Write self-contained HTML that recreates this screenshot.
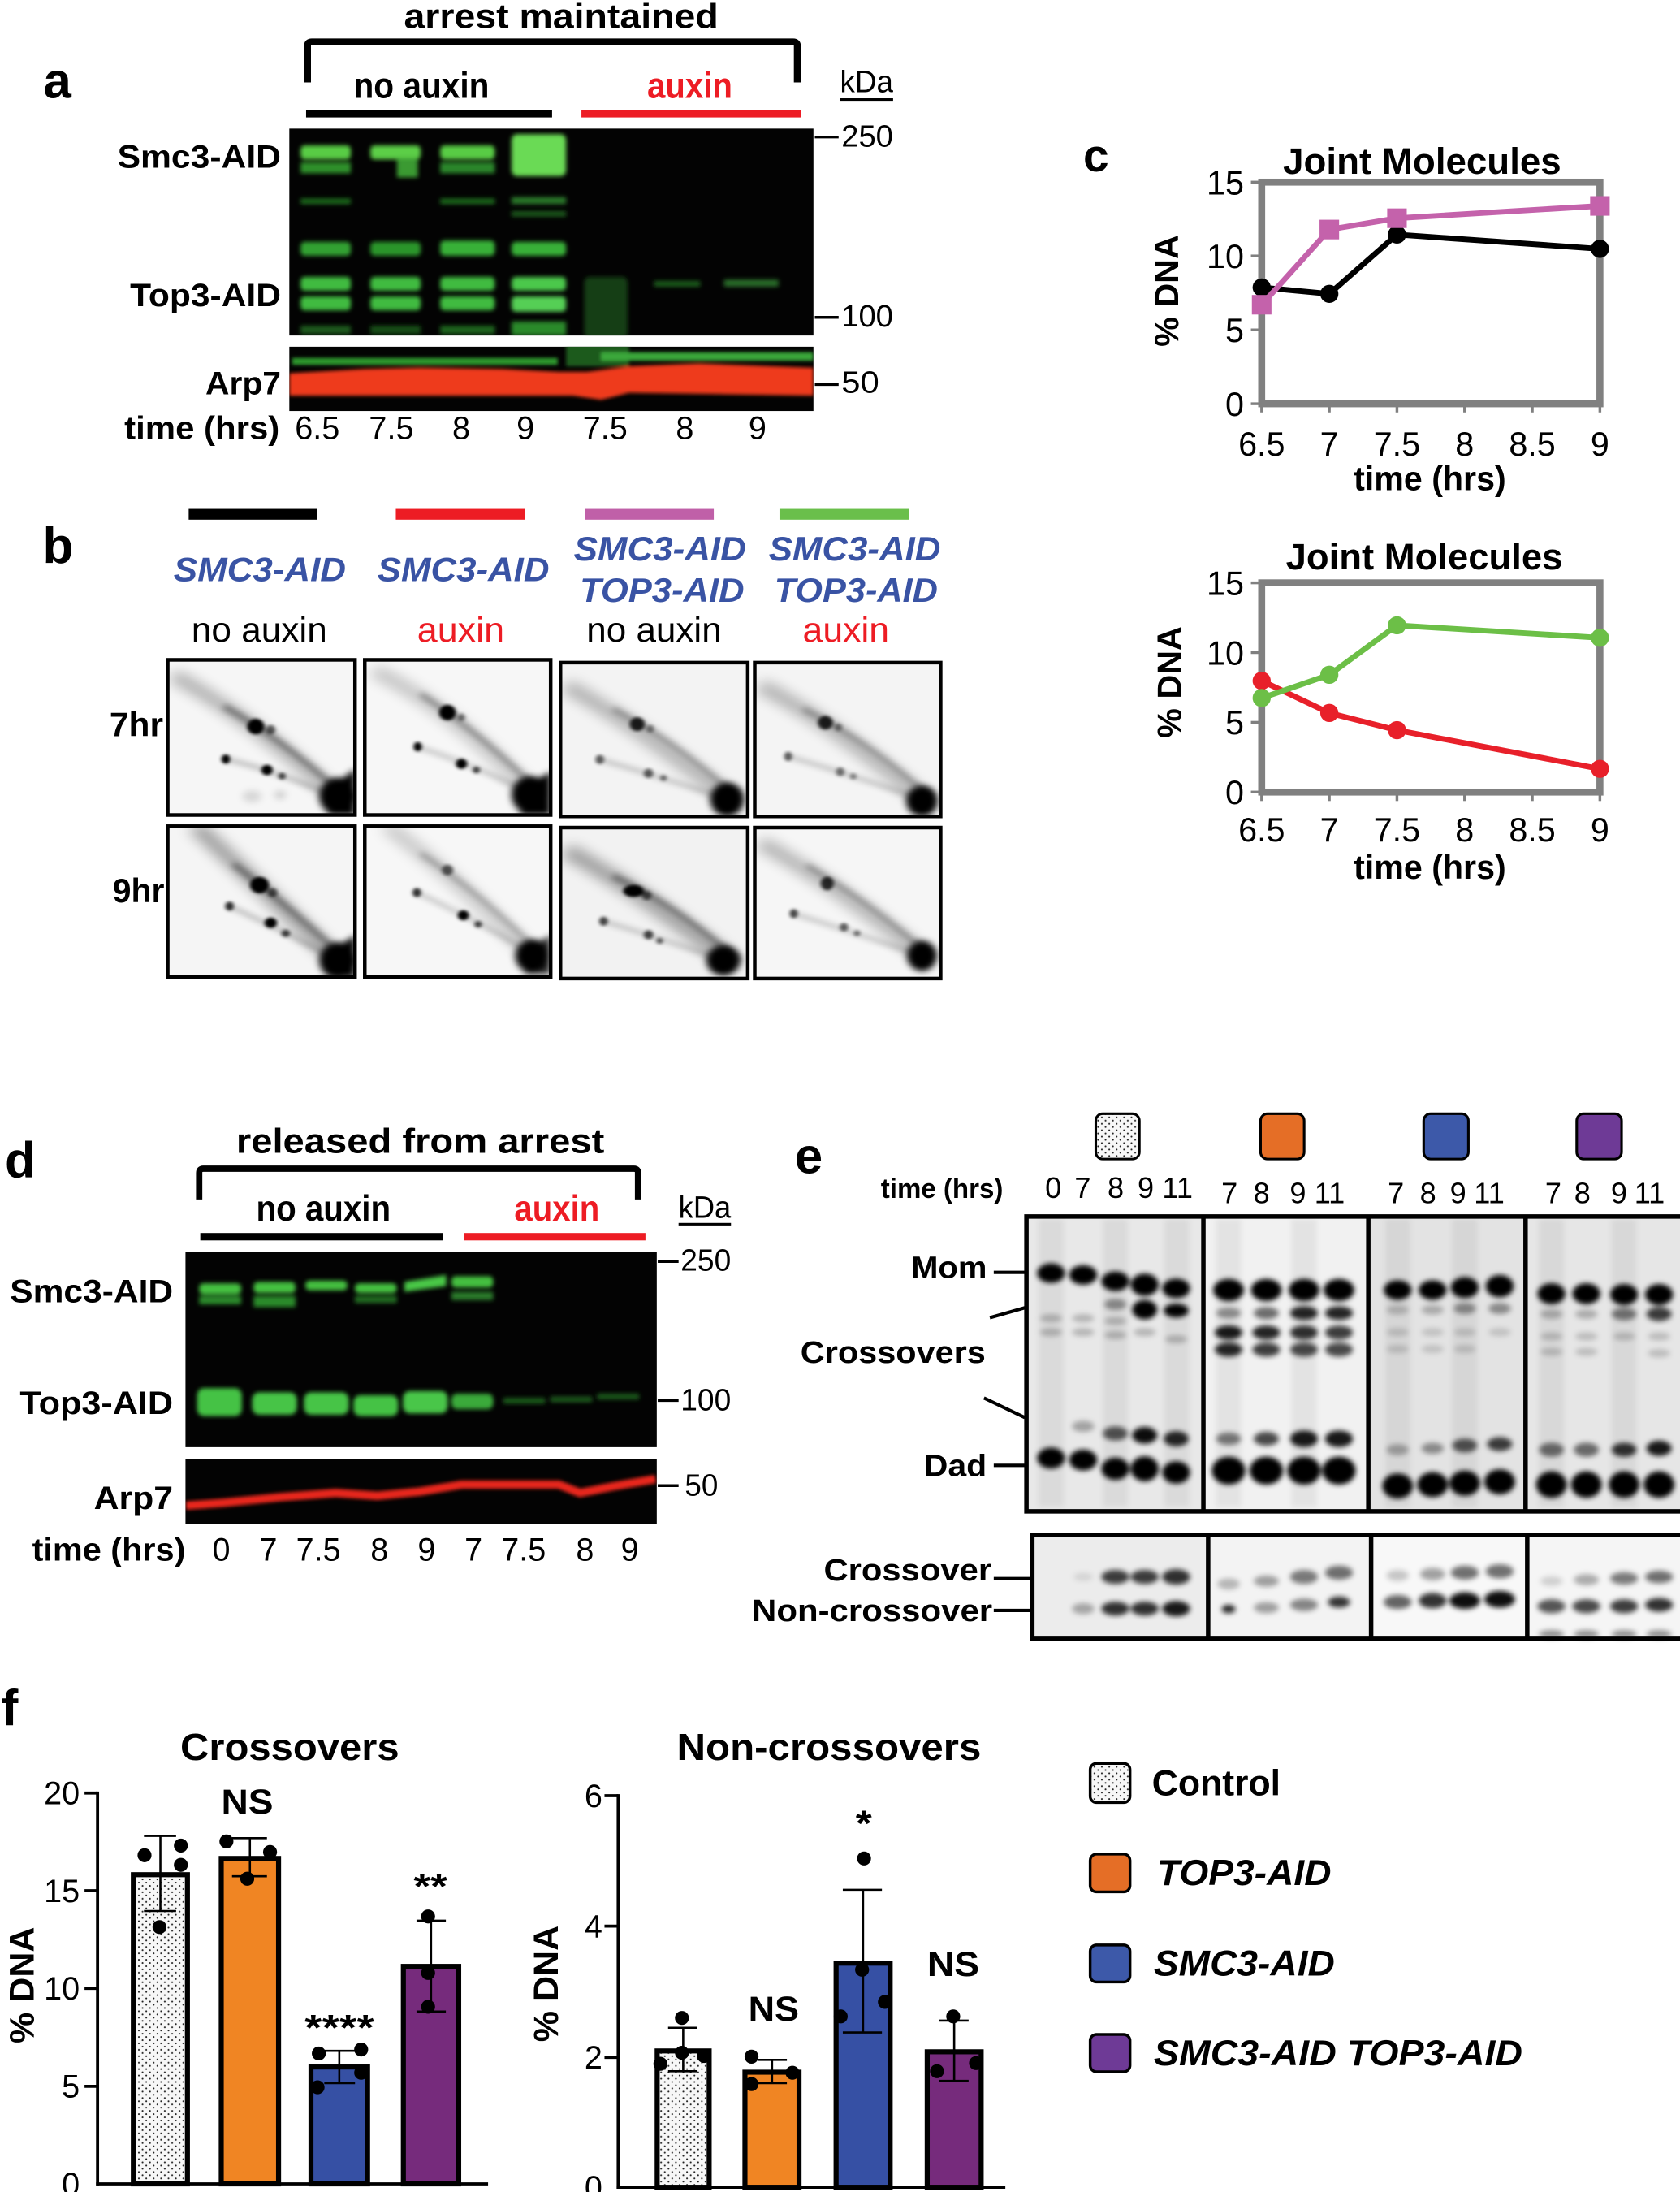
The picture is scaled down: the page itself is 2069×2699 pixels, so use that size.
<!DOCTYPE html>
<html><head><meta charset="utf-8">
<style>
html,body{margin:0;padding:0;background:#fff;}
svg{display:block;}
text{font-family:"Liberation Sans",Arial,sans-serif;fill:#000;}
.b{font-weight:bold;}
.bi{font-weight:bold;font-style:italic;}
.red{fill:#ed1c24;}
.blue{fill:#3953a4;}
</style></head><body>
<svg xmlns="http://www.w3.org/2000/svg" width="2069" height="2699" viewBox="0 0 1202 1568" preserveAspectRatio="none">
<defs>
 <filter id="f1" x="-20%" y="-50%" width="140%" height="200%"><feGaussianBlur stdDeviation="1.6"/></filter>
 <filter id="f1r" x="-20%" y="-50%" width="140%" height="200%"><feGaussianBlur stdDeviation="1.3"/></filter>
 <filter id="f2" x="-20%" y="-50%" width="140%" height="200%"><feGaussianBlur stdDeviation="1.8"/></filter>
 <filter id="n1" x="-30%" y="-30%" width="160%" height="160%"><feGaussianBlur stdDeviation="1"/></filter>
 <filter id="n2" x="-30%" y="-30%" width="160%" height="160%"><feGaussianBlur stdDeviation="2"/></filter>
 <filter id="n4" x="-30%" y="-30%" width="160%" height="160%"><feGaussianBlur stdDeviation="4"/></filter>
 <pattern id="dots" width="5.3" height="4.6" patternUnits="userSpaceOnUse"><rect width="5.3" height="4.6" fill="#f7f7f7"/><circle cx="1.3" cy="1.2" r="0.6" fill="#222"/><circle cx="3.95" cy="3.5" r="0.6" fill="#222"/></pattern>
 <clipPath id="cpa1"><rect x="207" y="92" width="375" height="148"/></clipPath>
 <clipPath id="cpa2"><rect x="207" y="248" width="375" height="46"/></clipPath>
 <clipPath id="cpd1"><rect x="132.7" y="895.5" width="337.2" height="139.7"/></clipPath>
 <clipPath id="cpd2"><rect x="132.7" y="1043.9" width="337.2" height="46"/></clipPath>
</defs>

<!-- ================= PANEL A ================= -->
<text x="31" y="70" font-size="36" class="b">a</text>
<text x="289" y="20" font-size="25" class="b" textLength="225" lengthAdjust="spacingAndGlyphs">arrest maintained</text>
<path d="M220,59 V33 Q220,30 223,30 H567.5 Q570.5,30 570.5,33 V59" fill="none" stroke="#000" stroke-width="5"/>
<text x="253" y="70" font-size="26" class="b" textLength="97" lengthAdjust="spacingAndGlyphs">no auxin</text>
<text x="463" y="70" font-size="26" class="b red" textLength="61" lengthAdjust="spacingAndGlyphs">auxin</text>
<rect x="219" y="78.5" width="176" height="5.5" fill="#000"/>
<rect x="416" y="78.5" width="157" height="5.5" fill="#ed1c24"/>
<text x="601" y="66" font-size="22" textLength="38" lengthAdjust="spacingAndGlyphs">kDa</text>
<rect x="601" y="70.3" width="38" height="1.8" fill="#000"/>
<text x="84" y="120" font-size="23" class="b" textLength="117" lengthAdjust="spacingAndGlyphs">Smc3-AID</text>
<text x="93" y="219" font-size="23" class="b" textLength="108" lengthAdjust="spacingAndGlyphs">Top3-AID</text>
<text x="147" y="282" font-size="23" class="b" textLength="54" lengthAdjust="spacingAndGlyphs">Arp7</text>
<!-- blot 1 -->
<rect x="207" y="92" width="375" height="148" fill="#030303"/>
<g clip-path="url(#cpa1)"><g filter="url(#f1)">
 <rect x="215" y="104" width="36" height="10" rx="3" fill="#58cc44"/>
 <rect x="265" y="104" width="36" height="10" rx="3" fill="#5cce46"/>
 <rect x="315" y="104" width="39" height="10" rx="3" fill="#58cc44"/>
 <rect x="366" y="96" width="39" height="30" rx="4" fill="#6ada54"/>
 <rect x="215" y="116" width="36" height="8" fill="#2f8f2a"/>
 <rect x="284" y="113" width="15" height="14" fill="#3a9a30"/>
 <rect x="315" y="116" width="39" height="8" fill="#2c852a"/>
 <rect x="215" y="142" width="36" height="4" fill="#1f6a1f"/>
 <rect x="315" y="142" width="39" height="4" fill="#1f6a1f"/>
 <rect x="366" y="141" width="39" height="5" fill="#2a7a2a"/>
 <rect x="366" y="151" width="39" height="4" fill="#1a5a1a"/>
 <rect x="215" y="173" width="36" height="10" rx="3" fill="#32a032"/>
 <rect x="265" y="173" width="36" height="10" rx="3" fill="#2c952c"/>
 <rect x="315" y="172" width="39" height="11" rx="3" fill="#38b038"/>
 <rect x="366" y="173" width="39" height="10" rx="3" fill="#38b038"/>
 <rect x="215" y="198" width="36" height="10" rx="3" fill="#40bb40"/>
 <rect x="265" y="198" width="36" height="10" rx="3" fill="#40bb40"/>
 <rect x="315" y="198" width="39" height="10" rx="3" fill="#40bb40"/>
 <rect x="366" y="198" width="39" height="10" rx="3" fill="#4cc84c"/>
 <rect x="215" y="212" width="36" height="10" rx="3" fill="#40bb40"/>
 <rect x="265" y="212" width="36" height="10" rx="3" fill="#40bb40"/>
 <rect x="315" y="212" width="39" height="10" rx="3" fill="#40bb40"/>
 <rect x="366" y="212" width="39" height="11" rx="3" fill="#55cf55"/>
 <rect x="215" y="233" width="36" height="6" fill="#1a5a1a"/>
 <rect x="265" y="233" width="36" height="6" fill="#154d15"/>
 <rect x="315" y="233" width="39" height="6" fill="#1e651e"/>
 <rect x="366" y="230" width="39" height="10" fill="#2b8a2b"/>
 <rect x="418" y="198" width="31" height="44" rx="4" fill="#1b4d1b" opacity="0.8"/>
 <rect x="468" y="201" width="33" height="4" fill="#1f5f1f"/>
 <rect x="518" y="200" width="39" height="5" fill="#2a6f2a"/>
</g></g>
<!-- blot 2 -->
<rect x="207" y="248" width="375" height="46" fill="#030303"/>
<g clip-path="url(#cpa2)"><g filter="url(#f1r)">
 <rect x="209" y="256" width="190" height="5" fill="#2f9a2f"/>
 <rect x="405" y="246" width="45" height="16" fill="#1f5a1f"/>
 <rect x="430" y="252" width="152" height="6" fill="#3aa83a"/>
 <path d="M207,267 L260,264 L300,263 L360,264 L400,266 L420,266 L450,262 L500,260 L582,263 L582,283 L450,281 L430,286 L410,283 L207,283 Z" fill="#ee3b1e"/>
</g></g>
<line x1="583" y1="98" x2="600" y2="98" stroke="#000" stroke-width="2"/>
<line x1="583" y1="227" x2="600" y2="227" stroke="#000" stroke-width="2"/>
<line x1="583" y1="275" x2="600" y2="275" stroke="#000" stroke-width="2"/>
<text x="602" y="105" font-size="22" textLength="37" lengthAdjust="spacingAndGlyphs">250</text>
<text x="602" y="233.5" font-size="22" textLength="37" lengthAdjust="spacingAndGlyphs">100</text>
<text x="602" y="281" font-size="22" textLength="27" lengthAdjust="spacingAndGlyphs">50</text>
<text x="89" y="314" font-size="23" class="b" textLength="111" lengthAdjust="spacingAndGlyphs">time (hrs)</text>
<g font-size="23" text-anchor="middle">
 <text x="227" y="314">6.5</text><text x="280" y="314">7.5</text><text x="330" y="314">8</text><text x="376" y="314">9</text>
 <text x="433" y="314">7.5</text><text x="490" y="314">8</text><text x="542" y="314">9</text>
</g>

<!-- ================= PANEL C ================= -->
<text x="775" y="122.5" font-size="33" class="b">c</text>
<text x="918" y="124.3" font-size="26.5" class="b" textLength="199" lengthAdjust="spacingAndGlyphs">Joint Molecules</text>
<g stroke="#808080" stroke-width="2">
 <line x1="895" y1="130.3" x2="903" y2="130.3"/><line x1="895" y1="183.1" x2="903" y2="183.1"/>
 <line x1="895" y1="236" x2="903" y2="236"/><line x1="895" y1="288.8" x2="903" y2="288.8"/>
 <line x1="902.7" y1="288" x2="902.7" y2="295"/><line x1="951.1" y1="288" x2="951.1" y2="295"/>
 <line x1="999.5" y1="288" x2="999.5" y2="295"/><line x1="1047.9" y1="288" x2="1047.9" y2="295"/>
 <line x1="1096.3" y1="288" x2="1096.3" y2="295"/><line x1="1144.7" y1="288" x2="1144.7" y2="295"/>
</g>
<rect x="902.7" y="130.3" width="242" height="158.5" fill="none" stroke="#808080" stroke-width="5"/>
<g font-size="24" text-anchor="end">
 <text x="890" y="139">15</text><text x="890" y="191.8">10</text><text x="890" y="244.6">5</text><text x="890" y="297.4">0</text>
</g>
<g font-size="24" text-anchor="middle">
 <text x="902.7" y="326">6.5</text><text x="951.1" y="326">7</text><text x="999.5" y="326">7.5</text>
 <text x="1047.9" y="326">8</text><text x="1096.3" y="326">8.5</text><text x="1144.7" y="326">9</text>
</g>
<text x="968.5" y="350.7" font-size="24" class="b" textLength="109" lengthAdjust="spacingAndGlyphs">time (hrs)</text>
<text transform="translate(843,208) rotate(-90)" font-size="24" class="b" text-anchor="middle">% DNA</text>
<polyline points="902.7,205.6 951.1,210.2 999.5,167.8 1144.7,178" fill="none" stroke="#000" stroke-width="4"/>
<g fill="#000"><circle cx="902.7" cy="205.6" r="6.5"/><circle cx="951.1" cy="210.2" r="6.5"/><circle cx="999.5" cy="167.8" r="6.5"/><circle cx="1144.7" cy="178" r="6.5"/></g>
<polyline points="902.7,218 951.1,164.2 999.5,156.1 1144.7,147.3" fill="none" stroke="#c462ab" stroke-width="4"/>
<g fill="#c462ab"><rect x="895.7" y="211" width="14" height="14"/><rect x="944.1" y="157.2" width="14" height="14"/><rect x="992.5" y="149.1" width="14" height="14"/><rect x="1137.7" y="140.3" width="14" height="14"/></g>

<text x="920" y="407.3" font-size="26.5" class="b" textLength="198" lengthAdjust="spacingAndGlyphs">Joint Molecules</text>
<g stroke="#808080" stroke-width="2">
 <line x1="895" y1="416.9" x2="903" y2="416.9"/><line x1="895" y1="466.8" x2="903" y2="466.8"/>
 <line x1="895" y1="516.7" x2="903" y2="516.7"/><line x1="895" y1="566.6" x2="903" y2="566.6"/>
 <line x1="902.7" y1="566" x2="902.7" y2="573"/><line x1="951.1" y1="566" x2="951.1" y2="573"/>
 <line x1="999.5" y1="566" x2="999.5" y2="573"/><line x1="1047.9" y1="566" x2="1047.9" y2="573"/>
 <line x1="1096.3" y1="566" x2="1096.3" y2="573"/><line x1="1144.7" y1="566" x2="1144.7" y2="573"/>
</g>
<rect x="902.7" y="416.9" width="242" height="149.7" fill="none" stroke="#808080" stroke-width="5"/>
<g font-size="24" text-anchor="end">
 <text x="890" y="425.5">15</text><text x="890" y="475.4">10</text><text x="890" y="525.3">5</text><text x="890" y="575.2">0</text>
</g>
<g font-size="24" text-anchor="middle">
 <text x="902.7" y="602">6.5</text><text x="951.1" y="602">7</text><text x="999.5" y="602">7.5</text>
 <text x="1047.9" y="602">8</text><text x="1096.3" y="602">8.5</text><text x="1144.7" y="602">9</text>
</g>
<text x="968.5" y="628.5" font-size="24" class="b" textLength="109" lengthAdjust="spacingAndGlyphs">time (hrs)</text>
<text transform="translate(845,488) rotate(-90)" font-size="24" class="b" text-anchor="middle">% DNA</text>
<polyline points="902.7,487 951.1,510 999.5,522.3 1144.7,550" fill="none" stroke="#e8202a" stroke-width="4"/>
<g fill="#e8202a"><circle cx="902.7" cy="487" r="6.5"/><circle cx="951.1" cy="510" r="6.5"/><circle cx="999.5" cy="522.3" r="6.5"/><circle cx="1144.7" cy="550" r="6.5"/></g>
<polyline points="902.7,499.3 951.1,482.7 999.5,447.3 1144.7,456.2" fill="none" stroke="#6cbf47" stroke-width="4"/>
<g fill="#6cbf47"><circle cx="902.7" cy="499.3" r="6.5"/><circle cx="951.1" cy="482.7" r="6.5"/><circle cx="999.5" cy="447.3" r="6.5"/><circle cx="1144.7" cy="456.2" r="6.5"/></g>

<!-- ================= PANEL B ================= -->
<text x="30.5" y="402.7" font-size="36" class="b">b</text>
<rect x="135" y="364" width="91.6" height="7.7" fill="#000"/>
<rect x="283.2" y="364" width="92.4" height="7.7" fill="#ed1c24"/>
<rect x="418.3" y="364" width="92.4" height="7.7" fill="#c060a8"/>
<rect x="557.7" y="364" width="92.4" height="7.7" fill="#6abf4b"/>
<text x="124.2" y="415.6" font-size="24" class="bi blue" textLength="123.3" lengthAdjust="spacingAndGlyphs">SMC3-AID</text>
<text x="270" y="415.6" font-size="24" class="bi blue" textLength="123" lengthAdjust="spacingAndGlyphs">SMC3-AID</text>
<text x="410.5" y="400.8" font-size="24" class="bi blue" textLength="123.3" lengthAdjust="spacingAndGlyphs">SMC3-AID</text>
<text x="414.8" y="430.4" font-size="24" class="bi blue" textLength="117.7" lengthAdjust="spacingAndGlyphs">TOP3-AID</text>
<text x="550" y="400.8" font-size="24" class="bi blue" textLength="123" lengthAdjust="spacingAndGlyphs">SMC3-AID</text>
<text x="554" y="430.4" font-size="24" class="bi blue" textLength="117" lengthAdjust="spacingAndGlyphs">TOP3-AID</text>
<text x="137" y="459" font-size="25" textLength="97" lengthAdjust="spacingAndGlyphs">no auxin</text>
<text x="298.5" y="459" font-size="25" class="red" textLength="62.3" lengthAdjust="spacingAndGlyphs">auxin</text>
<text x="419.6" y="459" font-size="25" textLength="96.7" lengthAdjust="spacingAndGlyphs">no auxin</text>
<text x="574.3" y="459" font-size="25" class="red" textLength="61.9" lengthAdjust="spacingAndGlyphs">auxin</text>
<text x="78.4" y="526.6" font-size="24" class="b" textLength="38.4" lengthAdjust="spacingAndGlyphs">7hr</text>
<text x="80.6" y="645.5" font-size="24" class="b" textLength="37" lengthAdjust="spacingAndGlyphs">9hr</text>

<!-- gel R1C1 -->
<svg x="120" y="472" width="134" height="111" viewBox="0 0 100 100" preserveAspectRatio="none">
 <rect width="100" height="100" fill="#f6f6f6"/>
 <g filter="url(#n4)" opacity="0.3"><path d="M3,10 Q45,38 90,88" stroke="#000" stroke-width="8" fill="none"/></g>
 <g filter="url(#n2)"><path d="M30,30 Q60,50 95,88" stroke="#000" stroke-width="3.5" fill="none" opacity="0.45"/><path d="M31,64 Q60,72 92,90" stroke="#000" stroke-width="2" fill="none" opacity="0.35"/>
  <ellipse cx="45" cy="88" rx="5" ry="4" fill="#000" opacity="0.12"/><ellipse cx="60" cy="87" rx="3" ry="3" fill="#000" opacity="0.15"/></g>
 <g filter="url(#n1)"><ellipse cx="47" cy="43" rx="4.5" ry="5" fill="#000"/><ellipse cx="55" cy="45" rx="2.5" ry="3" fill="#000" opacity="0.6"/><ellipse cx="31" cy="64" rx="2.3" ry="3" fill="#000"/><ellipse cx="53" cy="71" rx="3" ry="3.3" fill="#000"/><ellipse cx="61" cy="75" rx="2" ry="2.2" fill="#000" opacity="0.7"/></g>
 <g filter="url(#n2)"><ellipse cx="91" cy="88" rx="10" ry="12" fill="#000"/><path d="M84,86 L100,70 L100,100 L86,100Z" fill="#000"/></g>
</svg>
<!-- gel R1C2 -->
<svg x="261" y="472" width="133" height="111" viewBox="0 0 100 100" preserveAspectRatio="none">
 <rect width="100" height="100" fill="#f7f7f7"/>
 <g filter="url(#n4)" opacity="0.22"><path d="M5,7 Q45,30 90,86" stroke="#000" stroke-width="8" fill="none"/></g>
 <g filter="url(#n2)"><path d="M30,22 Q60,45 95,86" stroke="#000" stroke-width="3" fill="none" opacity="0.4"/><path d="M28,56 Q60,68 92,88" stroke="#000" stroke-width="2" fill="none" opacity="0.3"/></g>
 <g filter="url(#n1)"><ellipse cx="44.5" cy="34" rx="4.5" ry="5" fill="#000"/><ellipse cx="52" cy="37" rx="2" ry="2.5" fill="#000" opacity="0.5"/><ellipse cx="28.5" cy="56" rx="2.2" ry="3" fill="#000"/><ellipse cx="52" cy="67" rx="3" ry="3.3" fill="#000"/><ellipse cx="60" cy="71" rx="2" ry="2.2" fill="#000" opacity="0.7"/></g>
 <g filter="url(#n2)"><ellipse cx="89" cy="87" rx="10" ry="12" fill="#000"/><path d="M82,85 L100,72 L100,100 L84,100Z" fill="#000"/></g>
</svg>
<!-- gel R1C3 -->
<svg x="401" y="474" width="134" height="110" viewBox="0 0 100 100" preserveAspectRatio="none">
 <rect width="100" height="100" fill="#f3f3f3"/>
 <g filter="url(#n4)" opacity="0.27"><path d="M3,15 Q40,40 90,88" stroke="#000" stroke-width="9" fill="none"/></g>
 <g filter="url(#n2)"><path d="M28,30 Q60,50 95,88" stroke="#000" stroke-width="3" fill="none" opacity="0.35"/><path d="M21,63 Q55,75 92,90" stroke="#000" stroke-width="2" fill="none" opacity="0.3"/></g>
 <g filter="url(#n1)" opacity="0.85"><ellipse cx="41" cy="40" rx="4" ry="4.5" fill="#000"/><ellipse cx="48" cy="43" rx="2" ry="2.5" fill="#000" opacity="0.5"/><ellipse cx="21" cy="63" rx="2.3" ry="3" fill="#000" opacity="0.7"/><ellipse cx="47" cy="72" rx="2.5" ry="3" fill="#000" opacity="0.7"/><ellipse cx="55" cy="75" rx="1.8" ry="2" fill="#000" opacity="0.6"/></g>
 <g filter="url(#n2)"><ellipse cx="89" cy="89" rx="9" ry="11" fill="#000"/></g>
</svg>
<!-- gel R1C4 -->
<svg x="540" y="474" width="133" height="110" viewBox="0 0 100 100" preserveAspectRatio="none">
 <rect width="100" height="100" fill="#f4f4f4"/>
 <g filter="url(#n4)" opacity="0.27"><path d="M3,15 Q40,38 90,88" stroke="#000" stroke-width="9" fill="none"/></g>
 <g filter="url(#n2)"><path d="M26,30 Q60,50 95,88" stroke="#000" stroke-width="3" fill="none" opacity="0.35"/><path d="M18,61 Q55,74 92,90" stroke="#000" stroke-width="2" fill="none" opacity="0.3"/></g>
 <g filter="url(#n1)" opacity="0.85"><ellipse cx="38" cy="39" rx="4" ry="4.5" fill="#000"/><ellipse cx="45" cy="42" rx="2" ry="2.5" fill="#000" opacity="0.5"/><ellipse cx="18" cy="61" rx="2.2" ry="3" fill="#000" opacity="0.7"/><ellipse cx="46" cy="71" rx="2.3" ry="2.8" fill="#000" opacity="0.6"/><ellipse cx="53" cy="74" rx="1.8" ry="2" fill="#000" opacity="0.5"/></g>
 <g filter="url(#n2)"><ellipse cx="90" cy="90" rx="8.5" ry="10" fill="#000"/></g>
</svg>
<!-- gel R2C1 -->
<svg x="120" y="591" width="134" height="108" viewBox="0 0 100 100" preserveAspectRatio="none">
 <rect width="100" height="100" fill="#f5f5f5"/>
 <g filter="url(#n4)" opacity="0.36"><path d="M15,0 Q45,35 90,88" stroke="#000" stroke-width="9" fill="none"/></g>
 <g filter="url(#n2)"><path d="M35,25 Q62,50 95,88" stroke="#000" stroke-width="3.5" fill="none" opacity="0.45"/><path d="M33,53 Q60,68 92,90" stroke="#000" stroke-width="2" fill="none" opacity="0.35"/></g>
 <g filter="url(#n1)"><ellipse cx="49" cy="39" rx="5" ry="5.5" fill="#000"/><ellipse cx="56" cy="44" rx="2.5" ry="3" fill="#000" opacity="0.6"/><ellipse cx="33" cy="53" rx="2.3" ry="3" fill="#000" opacity="0.8"/><ellipse cx="55" cy="64" rx="3.3" ry="3.5" fill="#000"/><ellipse cx="63" cy="71" rx="2.3" ry="2.5" fill="#000" opacity="0.7"/></g>
 <g filter="url(#n2)"><ellipse cx="91" cy="89" rx="10" ry="12" fill="#000"/><path d="M84,86 L100,72 L100,100 L86,100Z" fill="#000"/></g>
</svg>
<!-- gel R2C2 -->
<svg x="261" y="591" width="133" height="108" viewBox="0 0 100 100" preserveAspectRatio="none">
 <rect width="100" height="100" fill="#f7f7f7"/>
 <g filter="url(#n4)" opacity="0.2"><path d="M12,0 Q45,30 90,85" stroke="#000" stroke-width="8" fill="none"/></g>
 <g filter="url(#n2)"><path d="M30,18 Q60,42 95,85" stroke="#000" stroke-width="3" fill="none" opacity="0.3"/><path d="M28,44 Q60,62 92,86" stroke="#000" stroke-width="2" fill="none" opacity="0.3"/></g>
 <g filter="url(#n1)"><ellipse cx="44.5" cy="29" rx="3" ry="3.5" fill="#000" opacity="0.6"/><ellipse cx="28" cy="44" rx="2.3" ry="3" fill="#000" opacity="0.8"/><ellipse cx="53" cy="59" rx="3" ry="3.3" fill="#000"/><ellipse cx="61" cy="65" rx="2" ry="2.3" fill="#000" opacity="0.7"/></g>
 <g filter="url(#n2)"><ellipse cx="90" cy="86" rx="9" ry="11" fill="#000"/><path d="M84,84 L100,72 L100,98 L86,98Z" fill="#000" opacity="0.8"/></g>
</svg>
<!-- gel R2C3 -->
<svg x="401" y="592" width="134" height="108" viewBox="0 0 100 100" preserveAspectRatio="none">
 <rect width="100" height="100" fill="#f2f2f2"/>
 <g filter="url(#n4)" opacity="0.34"><path d="M3,15 Q40,40 90,88" stroke="#000" stroke-width="10" fill="none"/></g>
 <g filter="url(#n2)"><path d="M28,32 Q60,50 95,88" stroke="#000" stroke-width="3.5" fill="none" opacity="0.45"/><path d="M23,62 Q55,74 92,90" stroke="#000" stroke-width="2" fill="none" opacity="0.3"/></g>
 <g filter="url(#n1)"><ellipse cx="39" cy="42" rx="5.5" ry="4" fill="#000"/><ellipse cx="46" cy="45" rx="2.5" ry="3" fill="#000" opacity="0.6"/><ellipse cx="23" cy="62" rx="2.3" ry="3" fill="#000" opacity="0.7"/><ellipse cx="47" cy="71" rx="2.5" ry="3" fill="#000" opacity="0.7"/><ellipse cx="53" cy="75" rx="1.8" ry="2" fill="#000" opacity="0.6"/></g>
 <g filter="url(#n2)"><ellipse cx="87" cy="88" rx="9" ry="10" fill="#000"/></g>
</svg>
<!-- gel R2C4 -->
<svg x="540" y="592" width="133" height="108" viewBox="0 0 100 100" preserveAspectRatio="none">
 <rect width="100" height="100" fill="#f6f6f6"/>
 <g filter="url(#n4)" opacity="0.27"><path d="M3,10 Q40,35 90,84" stroke="#000" stroke-width="9" fill="none"/></g>
 <g filter="url(#n2)"><path d="M28,25 Q60,48 95,85" stroke="#000" stroke-width="3" fill="none" opacity="0.35"/><path d="M21,57 Q55,70 92,86" stroke="#000" stroke-width="2" fill="none" opacity="0.3"/></g>
 <g filter="url(#n1)"><ellipse cx="39" cy="37" rx="3.5" ry="4.5" fill="#000" opacity="0.8"/><ellipse cx="21" cy="57" rx="2.2" ry="3" fill="#000" opacity="0.7"/><ellipse cx="48" cy="66" rx="2.3" ry="2.8" fill="#000" opacity="0.6"/><ellipse cx="55" cy="70" rx="1.8" ry="2" fill="#000" opacity="0.5"/></g>
 <g filter="url(#n2)"><ellipse cx="90" cy="85" rx="8" ry="10" fill="#000"/></g>
</svg>
<g fill="none" stroke="#000" stroke-width="2.6">
 <rect x="120" y="472" width="134" height="111"/><rect x="261" y="472" width="133" height="111"/>
 <rect x="401" y="474" width="134" height="110"/><rect x="540" y="474" width="133" height="110"/>
 <rect x="120" y="591" width="134" height="108"/><rect x="261" y="591" width="133" height="108"/>
 <rect x="401" y="592" width="134" height="108"/><rect x="540" y="592" width="133" height="108"/>
</g>

<!-- ================= PANEL D ================= -->
<text x="3.5" y="842" font-size="36" class="b">d</text>
<text x="169" y="824.7" font-size="25" class="b" textLength="263.4" lengthAdjust="spacingAndGlyphs">released from arrest</text>
<path d="M142.5,858 V839 Q142.5,836 145.5,836 H453.5 Q456.5,836 456.5,839 V858" fill="none" stroke="#000" stroke-width="4.5"/>
<text x="183.3" y="873.3" font-size="26" class="b" textLength="96.2" lengthAdjust="spacingAndGlyphs">no auxin</text>
<text x="368" y="873.3" font-size="26" class="b red" textLength="60.9" lengthAdjust="spacingAndGlyphs">auxin</text>
<rect x="143.3" y="882" width="173.4" height="5.3" fill="#000"/>
<rect x="331.9" y="882" width="129.9" height="5.3" fill="#ed1c24"/>
<text x="485.5" y="871" font-size="22" textLength="37.5" lengthAdjust="spacingAndGlyphs">kDa</text>
<rect x="485.5" y="874.8" width="37.5" height="1.8" fill="#000"/>
<text x="7.1" y="931.6" font-size="23" class="b" textLength="116.7" lengthAdjust="spacingAndGlyphs">Smc3-AID</text>
<text x="14.2" y="1011.5" font-size="23" class="b" textLength="109.6" lengthAdjust="spacingAndGlyphs">Top3-AID</text>
<text x="67.2" y="1079.5" font-size="23" class="b" textLength="56.6" lengthAdjust="spacingAndGlyphs">Arp7</text>
<rect x="132.7" y="895.5" width="337.2" height="139.7" fill="#030303"/>
<g clip-path="url(#cpd1)"><g filter="url(#f1)">
 <rect x="142.5" y="918" width="30" height="8" rx="3" fill="#45c040"/>
 <rect x="181.4" y="917" width="30" height="8" rx="3" fill="#45c040"/>
 <rect x="218.5" y="916" width="30" height="7" rx="3" fill="#45c040"/>
 <rect x="253.9" y="918" width="30" height="7" rx="3" fill="#45c040"/>
 <path d="M289.3,917 L319.3,912 L319.3,920 L289.3,924 Z" fill="#4ac846"/>
 <rect x="322.9" y="913" width="30" height="8" rx="3" fill="#45c040"/>
 <rect x="142.5" y="927" width="30" height="6" fill="#2a8a2a"/>
 <rect x="181.4" y="927" width="30" height="8" fill="#2a8a2a"/>
 <rect x="253.9" y="927" width="30" height="5" fill="#236e23"/>
 <rect x="322.9" y="924" width="30" height="6" fill="#2a7a2a"/>
 <rect x="141" y="993" width="32" height="20" rx="5" fill="#44c244"/>
 <rect x="180.4" y="996" width="32" height="16" rx="5" fill="#46c446"/>
 <rect x="217.5" y="996" width="32" height="16" rx="5" fill="#46c446"/>
 <rect x="252.9" y="998" width="32" height="15" rx="5" fill="#44c244"/>
 <rect x="288.3" y="995" width="32" height="16" rx="5" fill="#48c648"/>
 <rect x="322.9" y="997" width="30" height="11" rx="4" fill="#3aaa3a"/>
 <rect x="360.1" y="1000" width="30" height="4" fill="#1d5d1d"/>
 <rect x="393.7" y="999" width="30" height="4" fill="#1d5a1d"/>
 <rect x="427.3" y="997" width="30" height="4" fill="#1d5a1d"/>
</g></g>
<rect x="132.7" y="1043.9" width="337.2" height="46" fill="#030303"/>
<g clip-path="url(#cpd2)"><g filter="url(#f1r)">
 <polyline points="133,1077 160,1075 200,1071 240,1068 270,1070 300,1067 330,1062 370,1062 400,1062 415,1068 440,1063 469,1058" fill="none" stroke="#e8281e" stroke-width="6"/>
</g></g>
<line x1="470.6" y1="902.4" x2="485.5" y2="902.4" stroke="#000" stroke-width="2"/>
<line x1="470.6" y1="1001.8" x2="485.5" y2="1001.8" stroke="#000" stroke-width="2"/>
<line x1="470.6" y1="1062.7" x2="485.5" y2="1062.7" stroke="#000" stroke-width="2"/>
<text x="487" y="908.9" font-size="22" textLength="36" lengthAdjust="spacingAndGlyphs">250</text>
<text x="487" y="1008.7" font-size="22" textLength="36" lengthAdjust="spacingAndGlyphs">100</text>
<text x="490" y="1069.8" font-size="22" textLength="23.8" lengthAdjust="spacingAndGlyphs">50</text>
<text x="23" y="1116.2" font-size="23" class="b" textLength="109.7" lengthAdjust="spacingAndGlyphs">time (hrs)</text>
<g font-size="23" text-anchor="middle">
 <text x="158.3" y="1116.2">0</text><text x="192" y="1116.2">7</text><text x="227.8" y="1116.2">7.5</text>
 <text x="271.5" y="1116.2">8</text><text x="305.2" y="1116.2">9</text><text x="338.8" y="1116.2">7</text>
 <text x="374.6" y="1116.2">7.5</text><text x="418.5" y="1116.2">8</text><text x="450.6" y="1116.2">9</text>
</g>

<!-- ================= PANEL E ================= -->
<text x="568.6" y="839.3" font-size="36" class="b">e</text>
<rect x="784" y="796.7" width="31.2" height="32.4" rx="5" fill="url(#dots)" stroke="#000" stroke-width="1.8"/>
<rect x="901.9" y="796.7" width="31.2" height="32.4" rx="5" fill="#e56e26" stroke="#000" stroke-width="1.8"/>
<rect x="1018.6" y="796.7" width="32" height="32.4" rx="5" fill="#3d59a9" stroke="#000" stroke-width="1.8"/>
<rect x="1128.1" y="796.7" width="32.1" height="32.4" rx="5" fill="#6e3a96" stroke="#000" stroke-width="1.8"/>
<text x="630.2" y="857" font-size="20" class="b" textLength="87.5" lengthAdjust="spacingAndGlyphs">time (hrs)</text>
<g font-size="21" text-anchor="middle">
 <text x="753.6" y="857">0</text><text x="774.7" y="857">7</text><text x="798.3" y="857">8</text><text x="819.8" y="857">9</text><text x="842.5" y="857">11</text>
 <text x="879.7" y="860.8">7</text><text x="902.6" y="860.8">8</text><text x="928.6" y="860.8">9</text><text x="951.3" y="860.8">11</text>
 <text x="998.8" y="860.8">7</text><text x="1021.7" y="860.8">8</text><text x="1043.2" y="860.8">9</text><text x="1065.5" y="860.8">11</text>
 <text x="1111.3" y="860.8">7</text><text x="1132.2" y="860.8">8</text><text x="1158.4" y="860.8">9</text><text x="1180.2" y="860.8">11</text>
</g>
<!-- main gel backgrounds -->
<rect x="734.4" y="870.2" width="126.6" height="210.9" fill="#e8e8e8"/>
<rect x="861" y="870.2" width="118" height="210.9" fill="#f1f1f1"/>
<rect x="979" y="870.2" width="112.5" height="210.9" fill="#e3e3e3"/>
<rect x="1091.5" y="870.2" width="112.5" height="210.9" fill="#e6e6e6"/>
<g filter="url(#f2)" fill="#000">
 <g opacity="0.06"><rect x="743" y="872" width="18" height="206"/><rect x="789" y="872" width="18" height="206"/><rect x="833" y="872" width="18" height="206"/><rect x="870" y="872" width="18" height="206"/><rect x="924" y="872" width="18" height="206"/><rect x="991" y="872" width="18" height="206"/><rect x="1039" y="872" width="18" height="206"/><rect x="1101" y="872" width="18" height="206"/><rect x="1153" y="872" width="18" height="206"/></g>
 <!-- panel 1 -->
 <ellipse cx="752" cy="910.7" rx="10" ry="7"/><ellipse cx="775" cy="912" rx="10" ry="7"/><ellipse cx="798" cy="916.5" rx="10" ry="7"/><ellipse cx="819" cy="919" rx="10" ry="8"/><ellipse cx="841.5" cy="921.6" rx="10" ry="7"/>
 <ellipse cx="819" cy="936.8" rx="9" ry="7"/><ellipse cx="841.5" cy="937.5" rx="9" ry="5"/><ellipse cx="798" cy="933" rx="8" ry="4" opacity="0.4"/>
 <g opacity="0.22"><ellipse cx="752" cy="943" rx="8" ry="3"/><ellipse cx="775" cy="943" rx="8" ry="3"/><ellipse cx="798" cy="945" rx="8" ry="3"/><ellipse cx="752" cy="953" rx="8" ry="3"/><ellipse cx="775" cy="953" rx="8" ry="3"/><ellipse cx="798" cy="955" rx="8" ry="3"/><ellipse cx="819" cy="953" rx="8" ry="3"/><ellipse cx="841.5" cy="958" rx="8" ry="3"/></g>
 <ellipse cx="775" cy="1020.3" rx="8" ry="4" opacity="0.3"/><ellipse cx="798" cy="1025.4" rx="9" ry="5" opacity="0.65"/><ellipse cx="819" cy="1026.7" rx="9" ry="6" opacity="0.95"/><ellipse cx="841.5" cy="1029.2" rx="9" ry="5.5" opacity="0.85"/>
 <ellipse cx="752" cy="1043" rx="10" ry="7.5"/><ellipse cx="775" cy="1044.4" rx="10" ry="7.5"/><ellipse cx="798" cy="1050.7" rx="10" ry="8"/><ellipse cx="819" cy="1050.7" rx="10" ry="9"/><ellipse cx="841.5" cy="1053.3" rx="10" ry="8"/>
 <!-- panel 2 -->
 <ellipse cx="879" cy="922.8" rx="11" ry="8"/><ellipse cx="906" cy="922.8" rx="11" ry="8"/><ellipse cx="933" cy="922.8" rx="11" ry="8"/><ellipse cx="958" cy="922.8" rx="11" ry="8"/>
 <ellipse cx="879" cy="939.3" rx="9" ry="4" opacity="0.4"/><ellipse cx="906" cy="939.3" rx="9" ry="4.5" opacity="0.55"/><ellipse cx="933" cy="939.3" rx="10" ry="5" opacity="0.85"/><ellipse cx="958" cy="939.3" rx="10" ry="5" opacity="0.85"/>
 <ellipse cx="879" cy="953.2" rx="10" ry="5" opacity="0.9"/><ellipse cx="906" cy="953.2" rx="10" ry="5" opacity="0.85"/><ellipse cx="933" cy="953.2" rx="10" ry="5" opacity="0.8"/><ellipse cx="958" cy="953.2" rx="10" ry="5" opacity="0.75"/>
 <ellipse cx="879" cy="965.4" rx="10" ry="5" opacity="0.85"/><ellipse cx="906" cy="965.4" rx="10" ry="5" opacity="0.75"/><ellipse cx="933" cy="965.4" rx="10" ry="5" opacity="0.7"/><ellipse cx="958" cy="965.4" rx="10" ry="5" opacity="0.7"/>
 <ellipse cx="879" cy="1029.2" rx="9" ry="4.5" opacity="0.5"/><ellipse cx="906" cy="1029.2" rx="9" ry="5" opacity="0.7"/><ellipse cx="933" cy="1029.2" rx="10" ry="6" opacity="0.9"/><ellipse cx="958" cy="1029.2" rx="10" ry="6" opacity="0.9"/>
 <ellipse cx="879" cy="1052" rx="12" ry="10"/><ellipse cx="906" cy="1052" rx="12" ry="10"/><ellipse cx="933" cy="1052" rx="12" ry="10"/><ellipse cx="958" cy="1052" rx="12" ry="10"/>
 <!-- panel 3 -->
 <ellipse cx="1000" cy="922.8" rx="10" ry="7"/><ellipse cx="1025" cy="922.8" rx="10" ry="7"/><ellipse cx="1048" cy="921" rx="10" ry="7.5"/><ellipse cx="1073" cy="920" rx="10" ry="8"/>
 <ellipse cx="1000" cy="937" rx="8" ry="3.5" opacity="0.2"/><ellipse cx="1025" cy="937" rx="8" ry="3.5" opacity="0.25"/><ellipse cx="1048" cy="936" rx="8" ry="4" opacity="0.4"/><ellipse cx="1073" cy="936" rx="8" ry="4" opacity="0.4"/>
 <g opacity="0.15"><ellipse cx="1000" cy="953" rx="8" ry="3"/><ellipse cx="1025" cy="953" rx="8" ry="3"/><ellipse cx="1048" cy="953" rx="8" ry="3"/><ellipse cx="1073" cy="953" rx="8" ry="3"/><ellipse cx="1000" cy="965" rx="8" ry="3"/><ellipse cx="1025" cy="965" rx="8" ry="3"/><ellipse cx="1048" cy="965" rx="8" ry="3"/></g>
 <ellipse cx="1000" cy="1037" rx="8" ry="4" opacity="0.3"/><ellipse cx="1025" cy="1036" rx="8" ry="4" opacity="0.4"/><ellipse cx="1048" cy="1034" rx="9" ry="5" opacity="0.65"/><ellipse cx="1073" cy="1033" rx="9" ry="5" opacity="0.75"/>
 <ellipse cx="1000" cy="1063" rx="11" ry="9"/><ellipse cx="1025" cy="1062" rx="11" ry="9"/><ellipse cx="1048" cy="1061" rx="11" ry="9"/><ellipse cx="1073" cy="1060" rx="11" ry="9"/>
 <!-- panel 4 -->
 <ellipse cx="1110" cy="925.4" rx="10" ry="7.5"/><ellipse cx="1135" cy="925.4" rx="10" ry="7.5"/><ellipse cx="1162" cy="926" rx="10" ry="7.5"/><ellipse cx="1187" cy="926" rx="10" ry="7.5"/>
 <ellipse cx="1110" cy="940" rx="8" ry="3.5" opacity="0.25"/><ellipse cx="1135" cy="940" rx="8" ry="3.5" opacity="0.25"/><ellipse cx="1162" cy="940" rx="9" ry="4.5" opacity="0.5"/><ellipse cx="1187" cy="940" rx="9" ry="5" opacity="0.75"/>
 <g opacity="0.18"><ellipse cx="1110" cy="956" rx="8" ry="3"/><ellipse cx="1135" cy="956" rx="8" ry="3"/><ellipse cx="1162" cy="956" rx="8" ry="3"/><ellipse cx="1187" cy="956" rx="8" ry="3"/><ellipse cx="1110" cy="967" rx="8" ry="3"/><ellipse cx="1135" cy="967" rx="8" ry="3"/><ellipse cx="1187" cy="968" rx="8" ry="3"/></g>
 <ellipse cx="1110" cy="1037" rx="9" ry="5" opacity="0.55"/><ellipse cx="1135" cy="1037" rx="9" ry="5" opacity="0.55"/><ellipse cx="1162" cy="1037" rx="9" ry="5" opacity="0.8"/><ellipse cx="1187" cy="1036" rx="9" ry="5.5" opacity="0.9"/>
 <ellipse cx="1110" cy="1062" rx="11" ry="9.5"/><ellipse cx="1135" cy="1062" rx="11" ry="9.5"/><ellipse cx="1162" cy="1062" rx="11" ry="9.5"/><ellipse cx="1187" cy="1062" rx="11" ry="9.5"/>
</g>
<g fill="none" stroke="#000" stroke-width="3.2">
 <rect x="734.4" y="870.2" width="469.6" height="210.9"/>
 <line x1="861" y1="870.2" x2="861" y2="1081.1"/><line x1="979" y1="870.2" x2="979" y2="1081.1"/><line x1="1091.5" y1="870.2" x2="1091.5" y2="1081.1"/>
</g>
<!-- bottom strip -->
<rect x="738.6" y="1098" width="125.8" height="74.3" fill="#ececec"/>
<rect x="864.4" y="1098" width="116.6" height="74.3" fill="#f3f3f3"/>
<rect x="981" y="1098" width="111.7" height="74.3" fill="#f8f8f8"/>
<rect x="1092.7" y="1098" width="111.3" height="74.3" fill="#f5f5f5"/>
<g filter="url(#f2)" fill="#000">
 <ellipse cx="775" cy="1128" rx="7" ry="3" opacity="0.1"/><ellipse cx="798" cy="1128" rx="10" ry="5" opacity="0.75"/><ellipse cx="819" cy="1128" rx="10" ry="5" opacity="0.75"/><ellipse cx="841.5" cy="1128" rx="10" ry="5.5" opacity="0.8"/>
 <ellipse cx="775" cy="1150.7" rx="8" ry="4" opacity="0.3"/><ellipse cx="798" cy="1150.7" rx="10" ry="5" opacity="0.8"/><ellipse cx="819" cy="1150.7" rx="10" ry="5" opacity="0.8"/><ellipse cx="841.5" cy="1150.7" rx="10" ry="5.5" opacity="0.9"/>
 <ellipse cx="879" cy="1133" rx="8" ry="4" opacity="0.25"/><ellipse cx="906" cy="1131" rx="9" ry="4" opacity="0.35"/><ellipse cx="933" cy="1128" rx="10" ry="5" opacity="0.5"/><ellipse cx="958" cy="1125" rx="10" ry="5" opacity="0.55"/>
 <ellipse cx="879" cy="1151" rx="5" ry="3" opacity="0.85"/><ellipse cx="906" cy="1150" rx="9" ry="4" opacity="0.35"/><ellipse cx="933" cy="1148" rx="10" ry="4.5" opacity="0.45"/><ellipse cx="958" cy="1146" rx="8" ry="4" opacity="0.8"/>
 <ellipse cx="1000" cy="1127" rx="8" ry="4" opacity="0.2"/><ellipse cx="1025" cy="1126" rx="9" ry="4.5" opacity="0.35"/><ellipse cx="1048" cy="1125" rx="10" ry="5" opacity="0.55"/><ellipse cx="1073" cy="1124" rx="10" ry="5" opacity="0.55"/>
 <ellipse cx="1000" cy="1146" rx="10" ry="5" opacity="0.6"/><ellipse cx="1025" cy="1145" rx="10" ry="5.5" opacity="0.8"/><ellipse cx="1048" cy="1145" rx="11" ry="6" opacity="0.95"/><ellipse cx="1073" cy="1144" rx="11" ry="6" opacity="0.95"/>
 <ellipse cx="1110" cy="1131" rx="8" ry="3.5" opacity="0.15"/><ellipse cx="1135" cy="1130" rx="9" ry="4" opacity="0.3"/><ellipse cx="1162" cy="1129" rx="10" ry="4.5" opacity="0.5"/><ellipse cx="1187" cy="1128" rx="10" ry="4.5" opacity="0.55"/>
 <ellipse cx="1110" cy="1149" rx="10" ry="5" opacity="0.65"/><ellipse cx="1135" cy="1149" rx="10" ry="5" opacity="0.7"/><ellipse cx="1162" cy="1149" rx="10" ry="5" opacity="0.75"/><ellipse cx="1187" cy="1148" rx="10" ry="5" opacity="0.8"/>
 <g opacity="0.4"><ellipse cx="1110" cy="1169" rx="9" ry="3"/><ellipse cx="1135" cy="1169" rx="9" ry="3"/><ellipse cx="1162" cy="1169" rx="9" ry="3"/><ellipse cx="1187" cy="1169" rx="9" ry="3"/></g>
</g>
<g fill="none" stroke="#000" stroke-width="3.2">
 <rect x="738.6" y="1098" width="465.4" height="74.3"/>
 <line x1="864.4" y1="1098" x2="864.4" y2="1172.3"/><line x1="981" y1="1098" x2="981" y2="1172.3"/><line x1="1092.7" y1="1098" x2="1092.7" y2="1172.3"/>
</g>
<text x="651.9" y="914" font-size="22" class="b" textLength="54.2" lengthAdjust="spacingAndGlyphs">Mom</text>
<text x="572.7" y="974.8" font-size="22" class="b" textLength="132.5" lengthAdjust="spacingAndGlyphs">Crossovers</text>
<text x="661" y="1055.8" font-size="22" class="b" textLength="45" lengthAdjust="spacingAndGlyphs">Dad</text>
<text x="589.4" y="1130.5" font-size="22" class="b" textLength="120" lengthAdjust="spacingAndGlyphs">Crossover</text>
<text x="538" y="1159.6" font-size="22" class="b" textLength="172" lengthAdjust="spacingAndGlyphs">Non-crossover</text>
<g stroke="#000" stroke-width="2.4">
 <line x1="711" y1="910.2" x2="734" y2="910.2"/>
 <line x1="708.2" y1="942.6" x2="733.2" y2="935.5"/>
 <line x1="704" y1="1000" x2="733.2" y2="1014"/>
 <line x1="711" y1="1048.2" x2="734" y2="1048.2"/>
 <line x1="711" y1="1129.2" x2="739" y2="1129.2"/>
 <line x1="711" y1="1152" x2="739" y2="1152"/>
</g>

<!-- ================= PANEL F ================= -->
<text x="1" y="1234" font-size="36" class="b">f</text>
<text x="129" y="1259" font-size="27" class="b" textLength="156.6" lengthAdjust="spacingAndGlyphs">Crossovers</text>
<text x="484.2" y="1259" font-size="27" class="b" textLength="217.8" lengthAdjust="spacingAndGlyphs">Non-crossovers</text>
<!-- left chart -->
<text transform="translate(24,1420) rotate(-90)" font-size="25" class="b" text-anchor="middle">% DNA</text>
<g font-size="23" text-anchor="end">
 <text x="57" y="1290.6">20</text><text x="57" y="1360.5">15</text><text x="57" y="1430.3">10</text><text x="57" y="1500.4">5</text><text x="57" y="1570.2">0</text>
</g>
<g stroke="#000" stroke-width="2.2">
 <line x1="69.8" y1="1281.5" x2="69.8" y2="1563.3"/><line x1="68.7" y1="1562.2" x2="349.2" y2="1562.2"/>
 <line x1="60.5" y1="1282.6" x2="69.8" y2="1282.6"/><line x1="60.5" y1="1352.5" x2="69.8" y2="1352.5"/>
 <line x1="60.5" y1="1422.3" x2="69.8" y2="1422.3"/><line x1="60.5" y1="1492.4" x2="69.8" y2="1492.4"/>
</g>
<g stroke="#000" stroke-width="3.6">
 <rect x="95.4" y="1341" width="38.7" height="221.2" fill="url(#dots)"/>
 <rect x="158.3" y="1329.4" width="41" height="232.8" fill="#f08523"/>
 <rect x="222.5" y="1478.6" width="40.5" height="83.6" fill="#3650a4"/>
 <rect x="288.6" y="1406.6" width="39.6" height="155.6" fill="#762b7c"/>
</g>
<g stroke="#000" stroke-width="1.5">
 <line x1="114.75" y1="1313.3" x2="114.75" y2="1367"/><line x1="103" y1="1313.3" x2="126" y2="1313.3"/><line x1="103" y1="1367" x2="126" y2="1367"/>
 <line x1="178.8" y1="1314.9" x2="178.8" y2="1342.1"/><line x1="166" y1="1314.9" x2="191" y2="1314.9"/><line x1="166" y1="1342.1" x2="191" y2="1342.1"/>
 <line x1="242.75" y1="1467" x2="242.75" y2="1490.1"/><line x1="232" y1="1467" x2="254" y2="1467"/><line x1="232" y1="1490.1" x2="254" y2="1490.1"/>
 <line x1="308.4" y1="1373.9" x2="308.4" y2="1438.9"/><line x1="298" y1="1373.9" x2="319" y2="1373.9"/><line x1="298" y1="1438.9" x2="319" y2="1438.9"/>
</g>
<g fill="#000">
 <circle cx="103.4" cy="1327.1" r="5"/><circle cx="129.4" cy="1320.2" r="5"/><circle cx="129.4" cy="1334" r="5"/><circle cx="114.1" cy="1378.5" r="5"/>
 <circle cx="162" cy="1317.2" r="5"/><circle cx="193.2" cy="1324.8" r="5"/><circle cx="176.9" cy="1343.9" r="5"/>
 <circle cx="228.1" cy="1468.9" r="5"/><circle cx="258.4" cy="1466.1" r="5"/><circle cx="258.4" cy="1482.7" r="5"/><circle cx="227.2" cy="1493.1" r="5"/>
 <circle cx="306.3" cy="1370.9" r="5"/><circle cx="306.3" cy="1411.3" r="5"/><circle cx="306.3" cy="1435.5" r="5"/>
</g>
<text x="158.3" y="1297.4" font-size="25" class="b" textLength="37.2" lengthAdjust="spacingAndGlyphs">NS</text>
<text x="217.9" y="1459" font-size="26" class="b" textLength="49.8" lengthAdjust="spacingAndGlyphs">****</text>
<text x="296" y="1358" font-size="26" class="b" textLength="24" lengthAdjust="spacingAndGlyphs">**</text>
<!-- right chart -->
<text transform="translate(399,1419) rotate(-90)" font-size="25" class="b" text-anchor="middle">% DNA</text>
<g font-size="23" text-anchor="end">
 <text x="431" y="1292.5">6</text><text x="431" y="1385.8">4</text><text x="431" y="1479.7">2</text><text x="431" y="1572.6">0</text>
</g>
<g stroke="#000" stroke-width="2.2">
 <line x1="442.3" y1="1283.4" x2="442.3" y2="1565.7"/><line x1="441.2" y1="1564.6" x2="719.3" y2="1564.6"/>
 <line x1="432.5" y1="1284.5" x2="442.3" y2="1284.5"/><line x1="432.5" y1="1377.8" x2="442.3" y2="1377.8"/>
 <line x1="432.5" y1="1471.7" x2="442.3" y2="1471.7"/>
</g>
<g stroke="#000" stroke-width="3.6">
 <rect x="470.2" y="1467.1" width="37.2" height="97.5" fill="url(#dots)"/>
 <rect x="533" y="1482.3" width="38.7" height="82.3" fill="#f08523"/>
 <rect x="598.2" y="1404.3" width="38.7" height="160.3" fill="#3650a4"/>
 <rect x="663.4" y="1467.7" width="38.6" height="96.9" fill="#762b7c"/>
</g>
<g stroke="#000" stroke-width="1.5">
 <line x1="488.8" y1="1450.5" x2="488.8" y2="1481.6"/><line x1="478" y1="1450.5" x2="499" y2="1450.5"/><line x1="478" y1="1481.6" x2="499" y2="1481.6"/>
 <line x1="552.4" y1="1473.5" x2="552.4" y2="1490.1"/><line x1="542" y1="1473.5" x2="563" y2="1473.5"/><line x1="542" y1="1490.1" x2="563" y2="1490.1"/>
 <line x1="617.5" y1="1351.8" x2="617.5" y2="1453.9"/><line x1="603" y1="1351.8" x2="631" y2="1351.8"/><line x1="603" y1="1453.9" x2="631" y2="1453.9"/>
 <line x1="682.7" y1="1445.4" x2="682.7" y2="1488.5"/><line x1="672" y1="1445.4" x2="693" y2="1445.4"/><line x1="672" y1="1488.5" x2="693" y2="1488.5"/>
</g>
<g fill="#000">
 <circle cx="487.9" cy="1443.5" r="5"/><circle cx="487.9" cy="1468.4" r="5"/><circle cx="472.5" cy="1476.3" r="5"/><circle cx="503.7" cy="1470.7" r="5"/>
 <circle cx="537.7" cy="1471.2" r="5"/><circle cx="567" cy="1482.7" r="5"/><circle cx="537.7" cy="1490.8" r="5"/>
 <circle cx="618.2" cy="1329.4" r="5"/><circle cx="616.8" cy="1409" r="5"/><circle cx="633.1" cy="1432" r="5"/><circle cx="601.5" cy="1442.4" r="5"/>
 <circle cx="682" cy="1442.4" r="5"/><circle cx="698.3" cy="1475.8" r="5"/><circle cx="670.4" cy="1481.6" r="5"/>
</g>
<text x="535.4" y="1445.4" font-size="25" class="b" textLength="36.3" lengthAdjust="spacingAndGlyphs">NS</text>
<text x="612.2" y="1313" font-size="26" class="b" textLength="11.6" lengthAdjust="spacingAndGlyphs">*</text>
<text x="663.4" y="1413.6" font-size="25" class="b" textLength="37.3" lengthAdjust="spacingAndGlyphs">NS</text>
<!-- legend -->
<rect x="780" y="1261.4" width="28.5" height="28" rx="4.5" fill="url(#dots)" stroke="#000" stroke-width="2"/>
<rect x="780" y="1326.3" width="28.5" height="27" rx="4.5" fill="#e56e26" stroke="#000" stroke-width="2"/>
<rect x="780" y="1391.3" width="28.5" height="26.5" rx="4.5" fill="#3d59a9" stroke="#000" stroke-width="2"/>
<rect x="780" y="1455.3" width="28.5" height="26.7" rx="4.5" fill="#6e3a96" stroke="#000" stroke-width="2"/>
<text x="824.2" y="1284.3" font-size="26" class="b" textLength="92" lengthAdjust="spacingAndGlyphs">Control</text>
<text x="827.9" y="1348.3" font-size="26" class="bi" textLength="124.6" lengthAdjust="spacingAndGlyphs">TOP3-AID</text>
<text x="825.5" y="1413.3" font-size="26" class="bi" textLength="129.5" lengthAdjust="spacingAndGlyphs">SMC3-AID</text>
<text x="825.5" y="1477.3" font-size="26" class="bi" textLength="263.8" lengthAdjust="spacingAndGlyphs">SMC3-AID TOP3-AID</text>
</svg>
</body></html>
